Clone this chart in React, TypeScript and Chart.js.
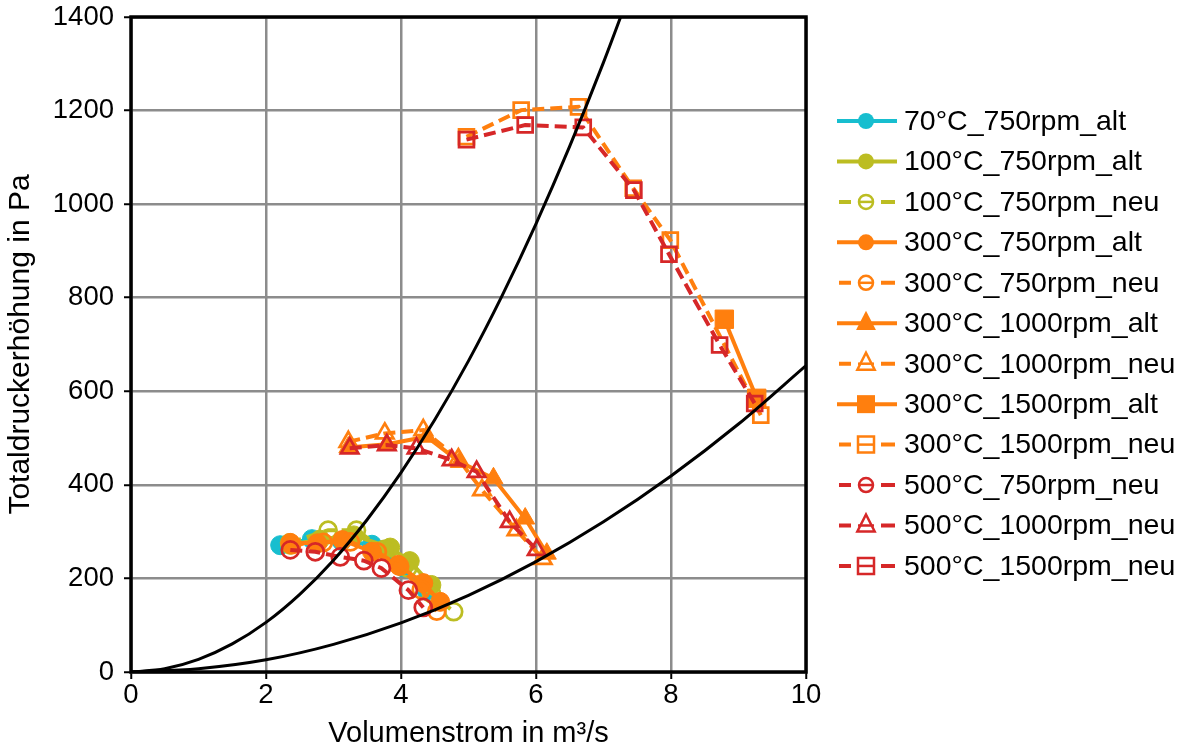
import React, { useEffect, useRef } from 'react';
import { Chart, registerables } from 'chart.js';

Chart.register(...registerables);

const FONT = "'Liberation Sans', Arial, Helvetica, sans-serif";

const CYAN = '#17becf';
const OLIVE = '#bcbd22';
const ORANGE = '#ff7f0e';
const RED = '#d62728';

// Axis ticks
const xTicks = [0, 2, 4, 6, 8, 10];
const yTicks = [0, 200, 400, 600, 800, 1000, 1200, 1400];

// Series values
const s70_750_alt_x = [2.21, 2.68, 3.12, 3.57, 4.03, 4.38];
const s70_750_alt_y = [271, 284, 280, 272, 224, 174];

const s100_750_alt_x = [2.36, 2.80, 3.30, 3.84, 4.13, 4.45];
const s100_750_alt_y = [272, 283, 292, 266, 237, 186];

const s100_750_neu_x = [2.35, 2.92, 3.34, 3.75, 4.10, 4.45, 4.78];
const s100_750_neu_y = [276, 303, 303, 262, 222, 168, 129];

const s300_750_alt_x = [2.36, 2.76, 3.13, 3.57, 3.96, 4.33, 4.58];
const s300_750_alt_y = [276, 275, 282, 257, 229, 190, 150];

const s300_750_neu_x = [2.38, 2.85, 3.25, 3.65, 3.98, 4.30, 4.53];
const s300_750_neu_y = [272, 277, 278, 257, 226, 176, 130];

const s300_1000_alt_x = [3.22, 3.79, 4.38, 4.87, 5.37, 5.84, 6.16];
const s300_1000_alt_y = [480, 487, 503, 449, 414, 328, 253];

const s300_1000_neu_x = [3.22, 3.76, 4.33, 4.85, 5.20, 5.71, 6.10];
const s300_1000_neu_y = [492, 510, 517, 455, 389, 303, 242];

const s300_1500_alt_x = [8.79, 9.27];
const s300_1500_alt_y = [754, 585];

const s300_1500_neu_x = [4.97, 5.78, 6.63, 7.44, 7.99, 9.33];
const s300_1500_neu_y = [1144, 1201, 1208, 1034, 923, 549];

const s500_750_neu_x = [2.36, 2.73, 3.10, 3.45, 3.71, 4.11, 4.33];
const s500_750_neu_y = [261, 257, 246, 238, 222, 175, 138];

const s500_1000_neu_x = [3.24, 3.79, 4.23, 4.75, 5.12, 5.61, 6.01];
const s500_1000_neu_y = [478, 485, 478, 453, 428, 321, 261];

const s500_1500_neu_x = [4.97, 5.84, 6.70, 7.45, 7.97, 8.72, 9.24];
const s500_1500_neu_y = [1138, 1169, 1164, 1030, 893, 699, 574];

// Black system curves
const curveA_x = [0, 0.5, 1, 1.5, 2, 2.5, 3, 3.5, 4, 4.5, 5, 5.5, 6, 6.5, 7, 7.5];
const curveA_y = [0, 7, 27, 60, 106, 166, 239, 326, 426, 539, 665, 805, 958, 1124, 1303, 1496];
const curveB_x = [0, 1, 2, 3, 4, 5, 6, 7, 8, 9, 10];
const curveB_y = [0, 7, 26, 59, 105, 164, 236, 321, 419, 530, 655];

type Marker = 'circle' | 'triangle' | 'rect';

const seriesLabels = [
  '70°C_750rpm_alt',
  '100°C_750rpm_alt',
  '100°C_750rpm_neu',
  '300°C_750rpm_alt',
  '300°C_750rpm_neu',
  '300°C_1000rpm_alt',
  '300°C_1000rpm_neu',
  '300°C_1500rpm_alt',
  '300°C_1500rpm_neu',
  '500°C_750rpm_neu',
  '500°C_1000rpm_neu',
  '500°C_1500rpm_neu',
];
const seriesX = [
  s70_750_alt_x, s100_750_alt_x, s100_750_neu_x, s300_750_alt_x, s300_750_neu_x,
  s300_1000_alt_x, s300_1000_neu_x, s300_1500_alt_x, s300_1500_neu_x,
  s500_750_neu_x, s500_1000_neu_x, s500_1500_neu_x,
];
const seriesY = [
  s70_750_alt_y, s100_750_alt_y, s100_750_neu_y, s300_750_alt_y, s300_750_neu_y,
  s300_1000_alt_y, s300_1000_neu_y, s300_1500_alt_y, s300_1500_neu_y,
  s500_750_neu_y, s500_1000_neu_y, s500_1500_neu_y,
];
const seriesColor = [CYAN, OLIVE, OLIVE, ORANGE, ORANGE, ORANGE, ORANGE, ORANGE, ORANGE, RED, RED, RED];
const seriesMarker: Marker[] = [
  'circle', 'circle', 'circle', 'circle', 'circle', 'triangle', 'triangle', 'rect', 'rect',
  'circle', 'triangle', 'rect',
];
const seriesFilled = [true, true, false, true, false, true, false, true, false, false, false, false];

const markerRadius = (m: Marker, filled: boolean) => {
  if (m === 'circle') return filled ? 9.5 : 8.5;
  if (m === 'triangle') return filled ? 11 : 10;
  return filled ? 13 : 10.5;
};

function drawLegendMarker(ctx: CanvasRenderingContext2D, m: Marker, filled: boolean, color: string, x: number, y: number) {
  ctx.save();
  ctx.beginPath();
  if (m === 'circle') {
    ctx.arc(x, y, filled ? 8 : 7, 0, Math.PI * 2);
  } else if (m === 'triangle') {
    const r = filled ? 11.5 : 10;
    const cy = y - 1;
    ctx.moveTo(x, cy - r);
    ctx.lineTo(x + 0.866 * r, cy + 0.5 * r + 2);
    ctx.lineTo(x - 0.866 * r, cy + 0.5 * r + 2);
    ctx.closePath();
  } else {
    const s = filled ? 9 : 8;
    ctx.rect(x - s, y - s, 2 * s, 2 * s);
  }
  if (filled) {
    ctx.fillStyle = color;
    ctx.fill();
  } else {
    ctx.fillStyle = '#ffffff';
    ctx.fill();
    ctx.lineWidth = 2.5;
    ctx.strokeStyle = color;
    ctx.stroke();
    ctx.beginPath();
    ctx.moveTo(x - 8, y);
    ctx.lineTo(x + 8, y);
    ctx.lineWidth = 2.5;
    ctx.stroke();
  }
  ctx.restore();
}

const legendPlugin = {
  id: 'customLegend',
  afterDraw(chart: any) {
    const ctx: CanvasRenderingContext2D = chart.ctx;
    const x0 = 837;
    const x1 = 897;
    const mx = 866;
    const tx = 904;
    const y0 = 121;
    const dy = 40.45;
    ctx.save();
    ctx.font = `28.5px ${FONT}`;
    ctx.textBaseline = 'middle';
    ctx.textAlign = 'left';
    seriesLabels.forEach((label, i) => {
      const y = y0 + i * dy;
      const color = seriesColor[i];
      const filled = seriesFilled[i];
      ctx.strokeStyle = color;
      ctx.lineWidth = 4;
      ctx.beginPath();
      if (filled) {
        ctx.moveTo(x0, y);
        ctx.lineTo(x1, y);
      } else {
        ctx.moveTo(x0 + 2, y);
        ctx.lineTo(x0 + 14, y);
        ctx.moveTo(x1 - 16, y);
        ctx.lineTo(x1 - 2, y);
      }
      ctx.stroke();
      drawLegendMarker(ctx, seriesMarker[i], filled, color, mx, y);
      ctx.fillStyle = '#000';
      ctx.fillText(label, tx, y + 1);
    });
    ctx.restore();
  },
};

const framePlugin = {
  id: 'frame',
  beforeDatasetsDraw(chart: any) {
    const { ctx, chartArea } = chart;
    ctx.save();
    ctx.strokeStyle = '#000';
    ctx.lineWidth = 3.5;
    ctx.strokeRect(chartArea.left, chartArea.top, chartArea.right - chartArea.left, chartArea.bottom - chartArea.top);
    ctx.restore();
  },
};

export default function App() {
  const canvasRef = useRef<HTMLCanvasElement | null>(null);

  useEffect(() => {
    if (!canvasRef.current) return;
    const n = seriesLabels.length;
    const datasets: any[] = seriesLabels.map((label, i) => {
      const filled = seriesFilled[i];
      const color = seriesColor[i];
      return {
        label,
        data: seriesX[i].map((x, j) => ({ x, y: seriesY[i][j] })),
        borderColor: color,
        backgroundColor: color,
        borderWidth: 4,
        borderDash: filled ? [] : [12, 6],
        pointStyle: seriesMarker[i],
        pointRadius: markerRadius(seriesMarker[i], filled),
        pointBackgroundColor: filled ? color : 'rgba(0,0,0,0)',
        pointBorderColor: color,
        pointBorderWidth: filled ? 1 : 2.75,
        showLine: true,
        fill: false,
        tension: 0,
        order: n + 2 - i,
      };
    });
    datasets.push({
      label: 'curveA',
      data: curveA_x.map((x, j) => ({ x, y: curveA_y[j] })),
      borderColor: '#000',
      borderWidth: 3,
      pointRadius: 0,
      showLine: true,
      fill: false,
      cubicInterpolationMode: 'monotone',
      order: 0,
    });
    datasets.push({
      label: 'curveB',
      data: curveB_x.map((x, j) => ({ x, y: curveB_y[j] })),
      borderColor: '#000',
      borderWidth: 3,
      pointRadius: 0,
      showLine: true,
      fill: false,
      cubicInterpolationMode: 'monotone',
      order: 0,
    });

    const chart = new Chart(canvasRef.current, {
      type: 'scatter',
      data: { datasets },
      options: {
        animation: false,
        responsive: false,
        maintainAspectRatio: false,
        events: [],
        layout: { padding: { left: 3, top: 17, right: 377, bottom: 0 } },
        plugins: {
          legend: { display: false },
          tooltip: { enabled: false },
        },
        scales: {
          x: {
            type: 'linear',
            min: 0,
            max: 10,
            afterBuildTicks: (scale: any) => {
              scale.ticks = xTicks.map((v) => ({ value: v }));
            },
            afterFit: (scale: any) => {
              scale.height = 79;
              scale.paddingLeft = 0;
              scale.paddingRight = 0;
            },
            border: { display: false },
            grid: {
              color: '#8c8c8c',
              lineWidth: 2.5,
              tickLength: 7,
              tickColor: '#000',
              tickWidth: 2,
            },
            ticks: {
              color: '#000',
              font: { family: FONT, size: 27.5 },
              padding: 0,
              maxRotation: 0,
              callback: (v: any) => String(v),
            },
            title: {
              display: true,
              text: 'Volumenstrom in m³/s',
              color: '#000',
              font: { family: FONT, size: 29 },
              padding: { top: 0, bottom: 0 },
            },
          },
          y: {
            type: 'linear',
            min: 0,
            max: 1400,
            afterBuildTicks: (scale: any) => {
              scale.ticks = yTicks.map((v) => ({ value: v }));
            },
            afterFit: (scale: any) => {
              scale.width = 128;
              scale.paddingTop = 0;
              scale.paddingBottom = 0;
            },
            border: { display: false },
            grid: {
              color: '#8c8c8c',
              lineWidth: 2.5,
              tickLength: 7,
              tickColor: '#000',
              tickWidth: 2,
            },
            ticks: {
              color: '#000',
              font: { family: FONT, size: 27.5 },
              padding: 10,
              callback: (v: any) => String(v),
            },
            title: {
              display: true,
              text: 'Totaldruckerhöhung in Pa',
              color: '#000',
              font: { family: FONT, size: 30 },
              padding: { top: 0, bottom: 0 },
            },
          },
        },
      },
      plugins: [framePlugin, legendPlugin],
    });

    return () => {
      chart.destroy();
    };
  }, []);

  return (
    <div style={{ position: 'fixed', left: 0, top: 0, width: 1183, height: 751, background: '#fff' }}>
      <canvas ref={canvasRef} width={1183} height={751} style={{ width: 1183, height: 751, display: 'block' }} />
    </div>
  );
}
